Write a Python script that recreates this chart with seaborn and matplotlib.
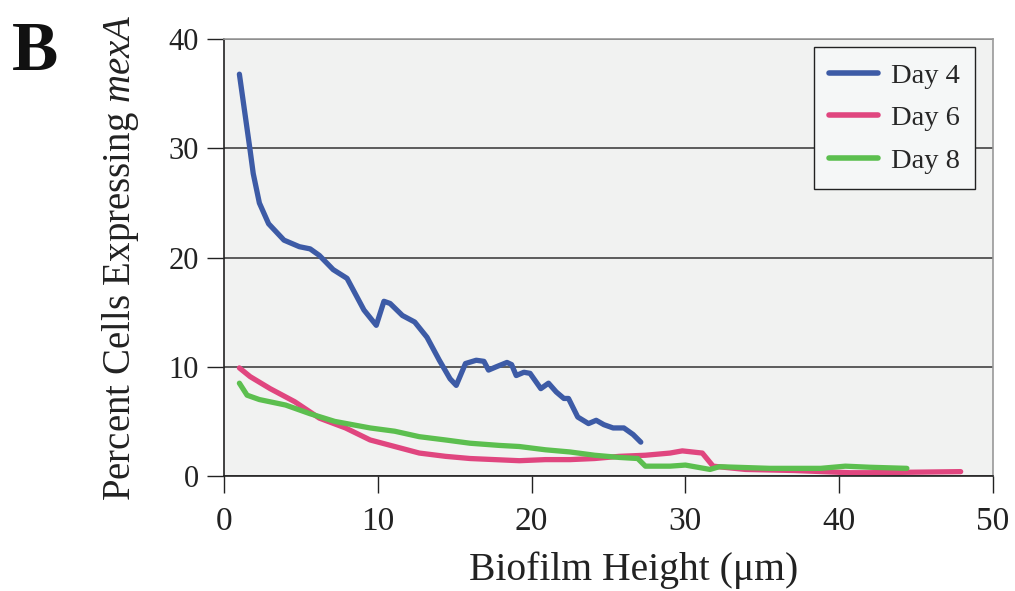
import numpy as np
import pandas as pd
import matplotlib
matplotlib.use("Agg")
import matplotlib.pyplot as plt
import seaborn as sns

# ---- data ----
blue_x = [1.0, 1.7, 1.9, 2.3, 2.9, 3.9, 4.9, 5.6, 6.2, 7.1, 8.0, 9.1, 9.9, 10.4, 10.8,
          11.6, 12.4, 13.2, 14.0, 14.7, 15.1, 15.7, 16.4, 16.9, 17.2, 17.7, 18.4, 18.7,
          19.0, 19.5, 19.9, 20.6, 21.1, 21.6, 22.1, 22.4, 23.0, 23.7, 24.2, 24.7, 25.3,
          26.0, 26.6, 27.1]
blue_y = [36.8, 29.8, 27.7, 25.0, 23.1, 21.6, 21.0, 20.8, 20.2, 18.9, 18.1, 15.2, 13.8,
          16.0, 15.8, 14.7, 14.1, 12.7, 10.6, 8.9, 8.3, 10.3, 10.6, 10.5, 9.7, 10.0, 10.4,
          10.2, 9.2, 9.5, 9.4, 8.0, 8.5, 7.7, 7.1, 7.1, 5.4, 4.8, 5.1, 4.7, 4.4, 4.4, 3.8, 3.1]

pink_x = [1.0, 1.7, 3.0, 4.6, 6.2, 7.9, 9.5, 11.1, 12.7, 14.4, 16.0, 17.6, 19.2, 20.9,
          22.5, 24.1, 25.7, 27.4, 29.0, 29.8, 31.1, 31.8, 33.9, 37.1, 40.7, 42.0, 47.9]
pink_y = [9.9, 9.1, 8.0, 6.8, 5.3, 4.4, 3.3, 2.7, 2.1, 1.8, 1.6, 1.5, 1.4, 1.5, 1.5, 1.6,
          1.8, 1.9, 2.1, 2.3, 2.1, 0.9, 0.6, 0.5, 0.3, 0.3, 0.4]

green_x = [1.0, 1.5, 2.3, 4.0, 5.6, 7.2, 9.5, 11.1, 12.7, 14.4, 16.0, 17.9, 19.2, 20.9,
           22.5, 24.1, 25.7, 26.9, 27.4, 29.0, 30.0, 31.6, 32.2, 35.5, 38.8, 40.4, 42.0, 44.4]
green_y = [8.5, 7.4, 7.0, 6.5, 5.7, 5.0, 4.4, 4.1, 3.6, 3.3, 3.0, 2.8, 2.7, 2.4, 2.2, 1.9,
           1.7, 1.6, 0.9, 0.9, 1.0, 0.6, 0.85, 0.7, 0.7, 0.9, 0.8, 0.7]

series_names = ["Day 4", "Day 6", "Day 8"]
series_colors = ["#3d5ba6", "#e0467f", "#5cbf4f"]
x_ticks = [0, 10, 20, 30, 40, 50]
y_ticks = [0, 10, 20, 30, 40]

# ---- style ----
sns.set_theme(style="white")
plt.rcParams["font.family"] = ["Liberation Serif", "DejaVu Serif"]
plt.rcParams["mathtext.fontset"] = "custom"
plt.rcParams["mathtext.rm"] = "Liberation Serif"
plt.rcParams["mathtext.it"] = "Liberation Serif:italic"

df = pd.concat([
    pd.DataFrame({"x": blue_x, "y": blue_y, "Series": series_names[0]}),
    pd.DataFrame({"x": pink_x, "y": pink_y, "Series": series_names[1]}),
    pd.DataFrame({"x": green_x, "y": green_y, "Series": series_names[2]}),
], ignore_index=True)

fig = plt.figure(figsize=(10.15, 5.91), dpi=100)
ax = fig.add_axes([0.2207, 0.1946, 0.7576, 0.739])
ax.set_facecolor("#f1f2f1")

sns.lineplot(data=df, x="x", y="y", hue="Series", hue_order=series_names,
             palette=dict(zip(series_names, series_colors)), sort=False,
             estimator=None, linewidth=3.8, ax=ax, legend=True)

ax.set_xlim(0, 50)
ax.set_ylim(0, 40)
ax.set_xticks(x_ticks)
ax.set_yticks(y_ticks)
ax.tick_params(axis="both", colors="#222222", direction="out",
               length=12, width=1.0, bottom=True, left=True)
ax.tick_params(axis="x", labelsize=24, pad=10)
ax.tick_params(axis="y", labelsize=22, pad=6)
ax.yaxis.grid(True, color="#333333", linewidth=1.1)
ax.xaxis.grid(False)
ax.set_axisbelow(True)

for side in ["left", "bottom"]:
    ax.spines[side].set_color("#222222")
    ax.spines[side].set_linewidth(1.2)
for side in ["top", "right"]:
    ax.spines[side].set_color("#999999")
    ax.spines[side].set_linewidth(1.2)

ax.set_xlabel("Biofilm Height (\u03bcm)", fontsize=28.5, color="#222222")
ax.xaxis.set_label_coords(0.533, -0.172)
ax.set_ylabel(r"Percent Cells Expressing $\mathit{mexA}$", fontsize=28,
              color="#222222")
ax.yaxis.set_label_coords(-0.108, 0.5)

leg = ax.legend(loc="upper right", bbox_to_anchor=(0.977, 0.982), borderaxespad=0,
                fontsize=20.5, frameon=True, fancybox=False, edgecolor="#222222",
                facecolor="#f5f7f7", framealpha=1.0, handlelength=1.7,
                labelspacing=0.58, borderpad=0.55, handletextpad=0.45)
leg.get_frame().set_linewidth(1.0)
for line in leg.get_lines():
    line.set_linewidth(4)

fig.text(0.012, 0.965, "B", fontsize=50, fontweight="bold", color="#111111",
         ha="left", va="top")

fig.savefig("out.png", dpi=100, facecolor="white")
